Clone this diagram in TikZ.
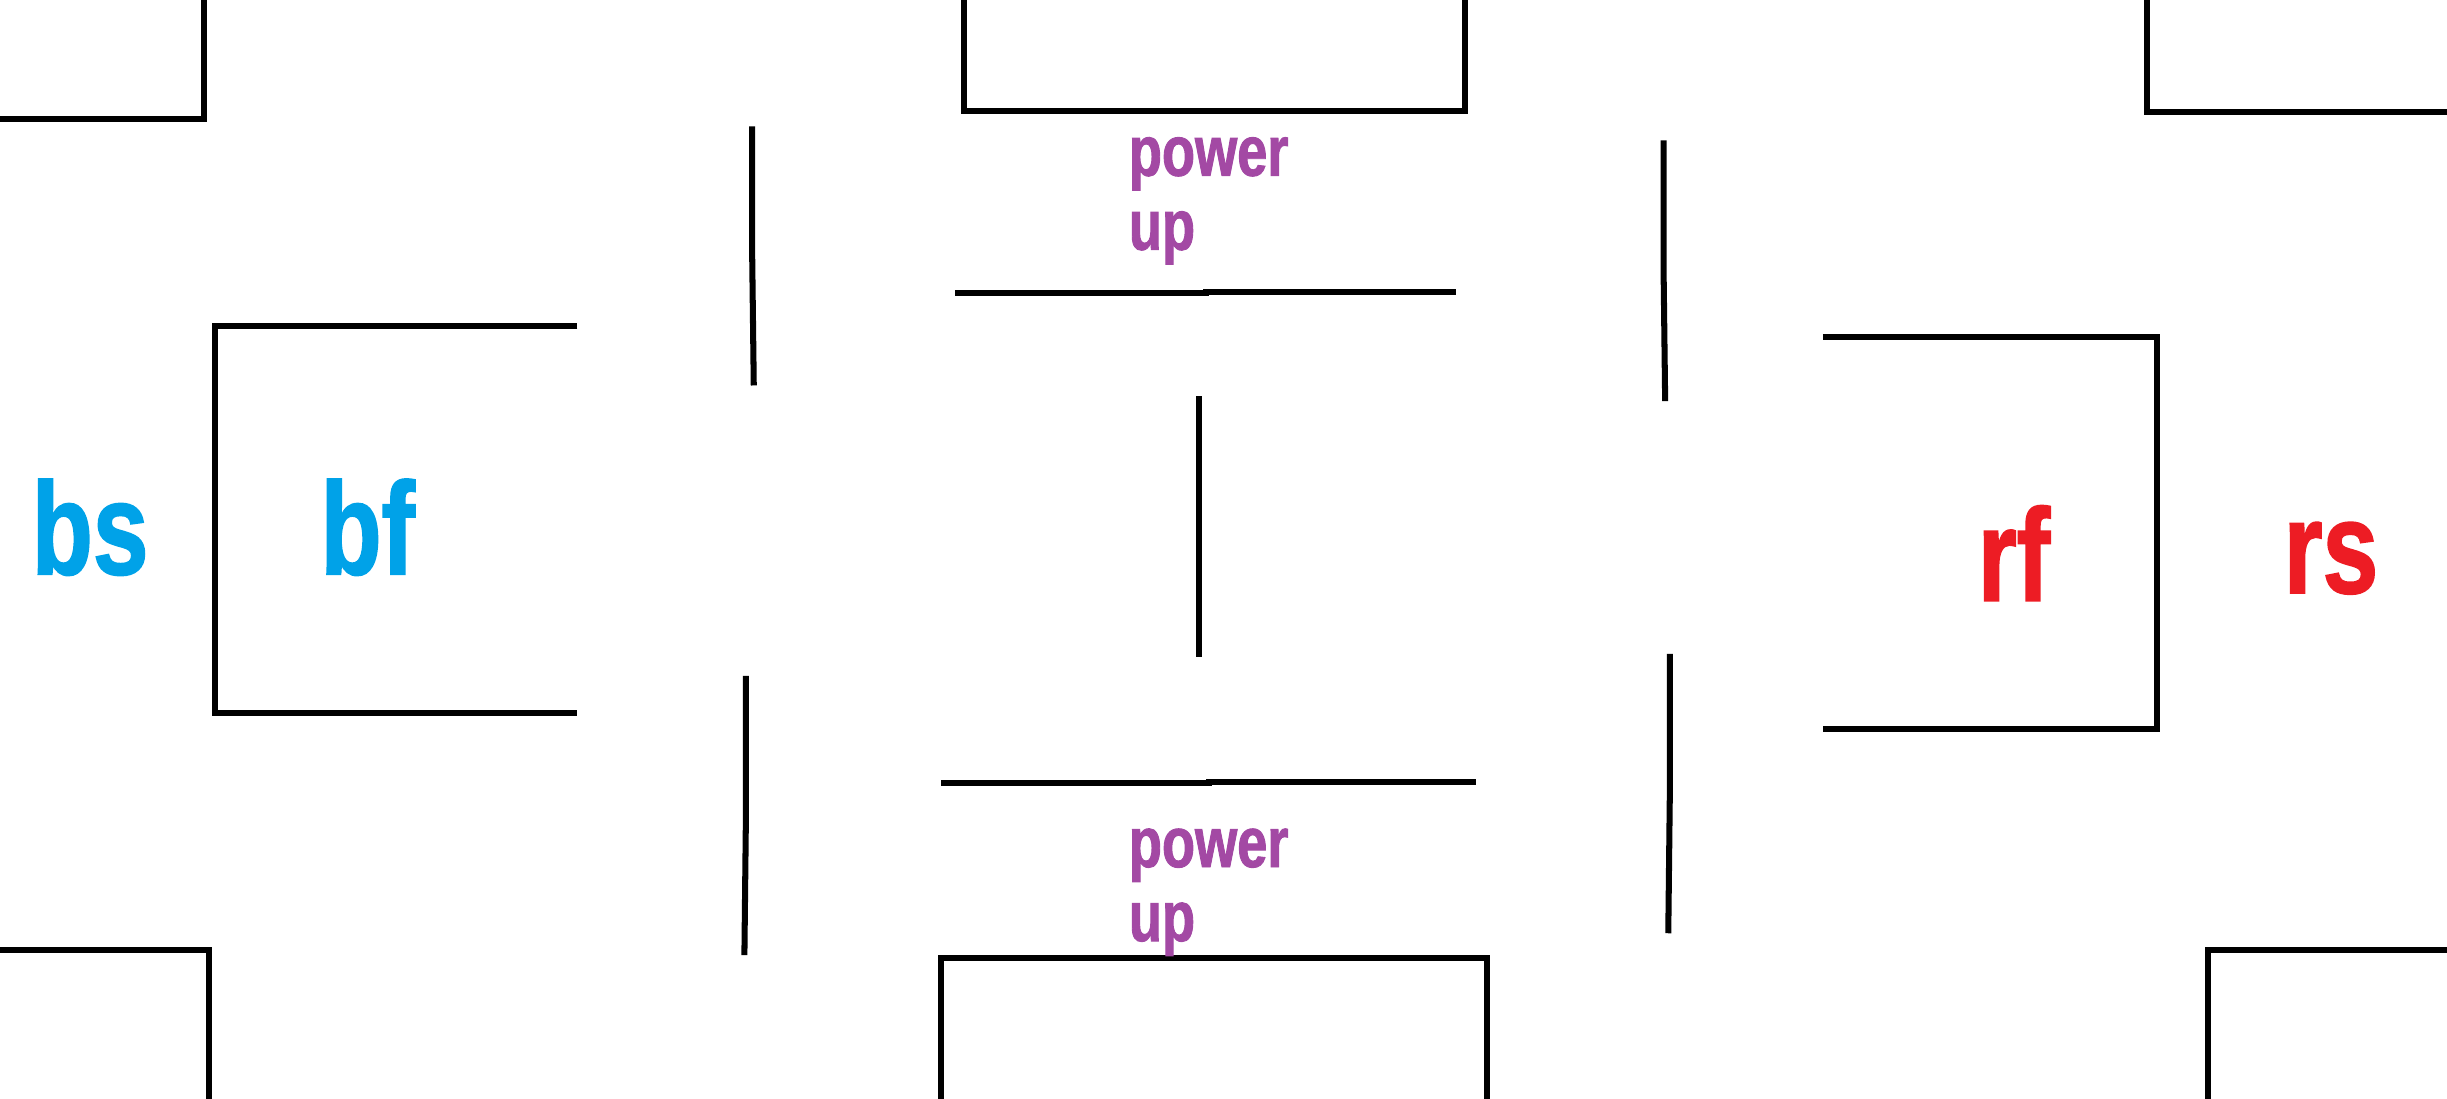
\documentclass[tikz,border=0pt]{standalone}
\usepackage{fontspec}
\newfontfamily\heavyfont[FakeStretch=0.76, BoldFeatures={FakeBold=1.3}]{Liberation Sans}
\definecolor{blueteam}{RGB}{0,162,232}
\definecolor{redteam}{RGB}{237,28,36}
\definecolor{powerpurple}{RGB}{163,73,164}
\tikzset{
	wall/.style={line width=2.2pt},
	teamlabel/.style={inner sep=0pt, anchor=base west, font=\heavyfont\bfseries\fontsize{48}{48}\selectfont},
	powerlabel/.style={inner sep=0pt, anchor=base west, align=left, color=powerpurple, font=\heavyfont\bfseries\fontsize{26}{27}\selectfont}
}

\begin{document}
\begin{tikzpicture}[x=0.02cm, y=-0.02cm]
			%%%%% START %%%%%
			
			\useasboundingbox (0, 0) rectangle (1568, 704);
			\clip (0, 0) rectangle (1568, 704);
			
			% corner and middle blocks
			\draw[wall] (0, 76) -- (131, 76) -- (131, 0);
			\draw[wall] (618, 0) -- (618, 71) -- (939, 71) -- (939, 0);
			\draw[wall] (1376, 0) -- (1376, 72) -- (1568, 72);
			
			\draw[wall] (0, 609) -- (134, 609) -- (134, 704);
			\draw[wall] (603, 704) -- (603, 614) -- (953, 614) -- (953, 704);
			\draw[wall] (1568, 609) -- (1415, 609) -- (1415, 704);
			
			% bases
			\draw[wall] (370, 209) -- (138, 209) -- (138, 457) -- (370, 457);
			\draw[wall] (1168, 216) -- (1382, 216) -- (1382, 467) -- (1168, 467);
			
			% inner walls
			\draw[wall] (482, 81) -- (482, 165) -- (483, 247);
			\draw[wall] (478, 433) -- (478, 520) -- (477, 612);
			\draw[wall] (1066, 90) -- (1066, 174) -- (1067, 257);
			\draw[wall] (1070, 419) -- (1070, 508) -- (1069, 598);
			\draw[wall] (768, 254) -- (768, 421);
			
			\draw[wall] (612, 188) -- (773, 188) -- (773, 187) -- (933, 187);
			\draw[wall] (603, 502) -- (775, 502) -- (775, 501) -- (946, 501);
			
			% labels
			\node[teamlabel, color=blueteam] (bs) at (20, 368) {bs};
			\node[teamlabel, color=blueteam] (bf) at (205, 368) {bf};
			\node[teamlabel, color=redteam] (rf) at (1267, 385) {rf};
			\node[teamlabel, color=redteam] (rs) at (1463, 380) {rs};
			
			\node[powerlabel] (powertop) at (723, 160) {power\\up};
			\node[powerlabel] (powerbottom) at (723, 603) {power\\up};
			
			%%%%% END %%%%%
		\end{tikzpicture}
\end{document}
